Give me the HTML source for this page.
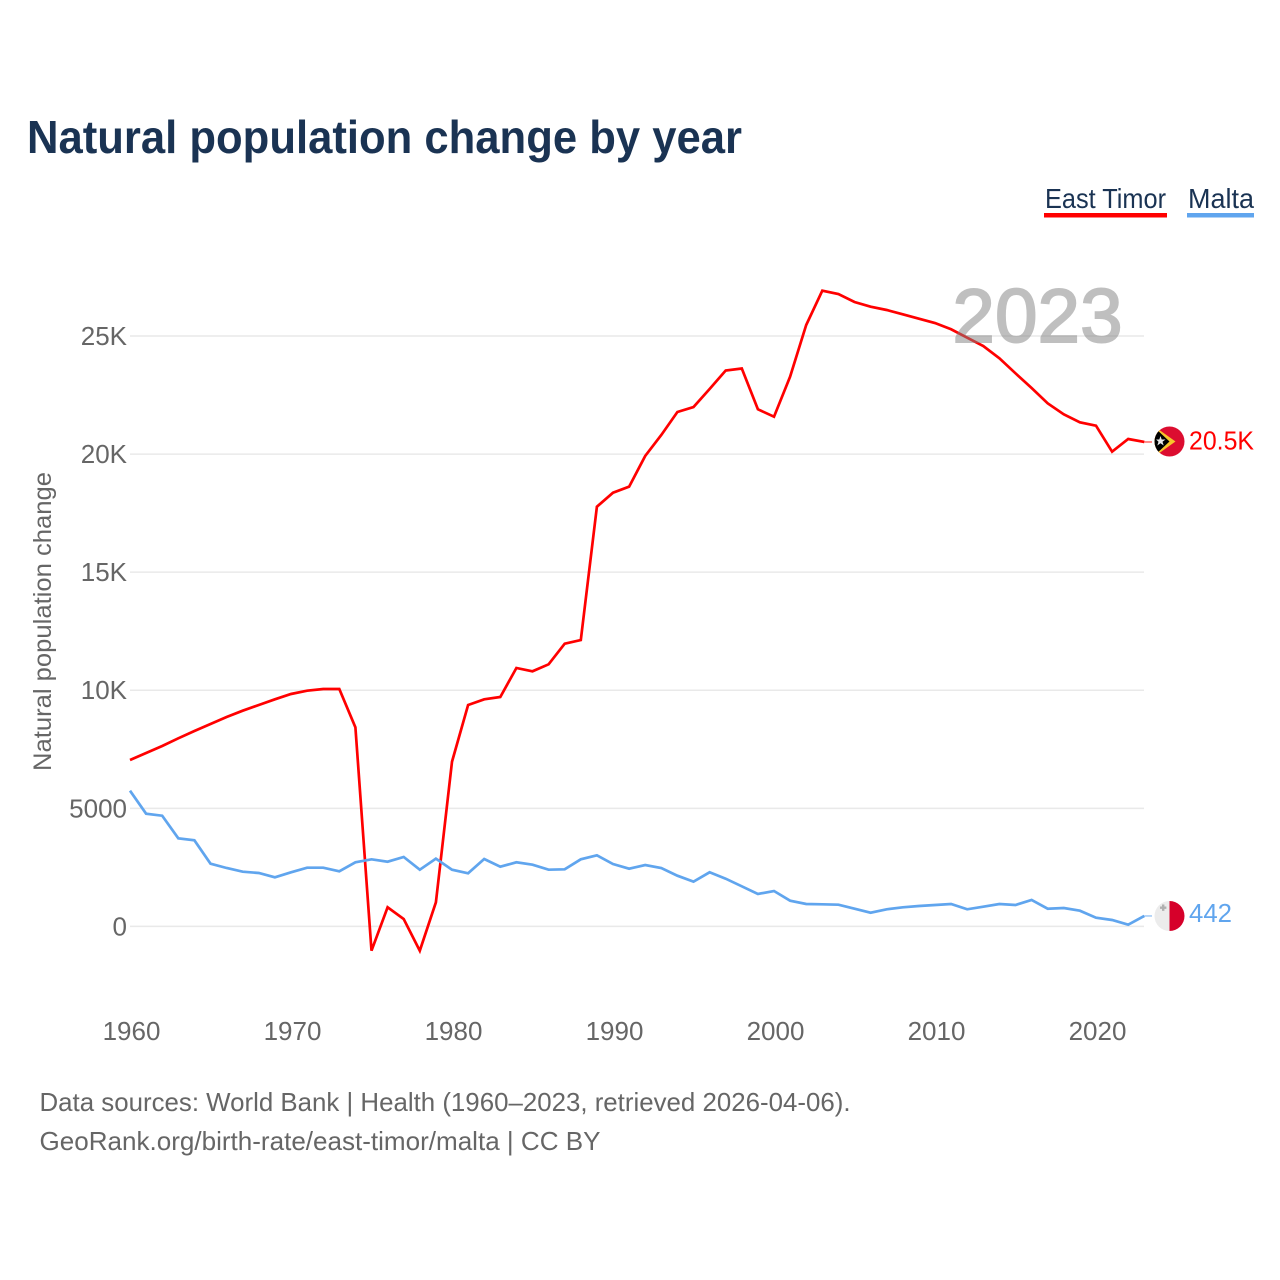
<!DOCTYPE html>
<html lang="en">
<head>
<meta charset="utf-8">
<title>Natural population change by year</title>
<style>
html,body{margin:0;padding:0;background:#fff;}
svg{display:block;font-family:"Liberation Sans",sans-serif;}
</style>
</head>
<body>
<svg id="chart" xmlns="http://www.w3.org/2000/svg" width="1280" height="1280" viewBox="0 0 1280 1280">
  <defs>
    <clipPath id="timor-clip"><circle cx="15" cy="15" r="15"/></clipPath>
    <clipPath id="malta-clip"><circle cx="15" cy="15" r="15"/></clipPath>
  </defs>
  <rect x="0" y="0" width="1280" height="1280" fill="#fff"/>
  <text x="27" y="153" font-size="46" font-weight="700" fill="#1a3353" textLength="715" lengthAdjust="spacingAndGlyphs">Natural population change by year</text>

  <g>
    <g>
      <text x="1045" y="208" font-size="28" fill="#1a3353" textLength="121" lengthAdjust="spacingAndGlyphs">East Timor</text>
      <rect x="1044" y="213" width="123" height="4.5" fill="#ff0000"/>
    </g>
    <g>
      <text x="1188" y="208" font-size="28" fill="#1a3353" textLength="66" lengthAdjust="spacingAndGlyphs">Malta</text>
      <rect x="1187" y="213" width="67" height="4.5" fill="#60a5ee"/>
    </g>
  </g>

  <g id="grid"></g>
  <g id="y-axis"></g>
  <g id="x-axis"></g>
  <text transform="translate(51 771) rotate(-90)" x="0" y="0" font-size="25" fill="#666" textLength="299" lengthAdjust="spacingAndGlyphs">Natural population change</text>

  <g id="series"></g>

  <text x="952.500" y="342" font-size="76" fill="#808080" stroke="#808080" stroke-width="2" opacity="0.5" textLength="170" lengthAdjust="spacing">2023</text>

  <g id="flag-east-timor">
    <g clip-path="url(#timor-clip)">
      <rect x="0" y="0" width="30" height="30" fill="#dc0d30"/>
      <polygon points="0,0 21,15 0,30" fill="#f7c52b"/>
      <polygon points="0,1 15,15 0,29" fill="#000"/>
      <polygon points="6,9.500 7.200,13 11,13 8,15.200 9.200,19 6,16.700 2.800,19 4,15.200 1.600,13 4.800,13" fill="#e8e8e8"/>
    </g>
  </g>
  <g id="flag-malta">
    <g clip-path="url(#malta-clip)">
      <rect x="0" y="0" width="15" height="30" fill="#ececec"/>
      <rect x="15" y="0" width="15" height="30" fill="#d6002a"/>
      <path d="M7.500 3.500h2.400v2h2v2.400h-2v2h-2.400v-2h-2V5.500h2z" fill="#b0b0b0"/>
    </g>
  </g>
  <text id="value-east-timor" x="1189" font-size="25.500" fill="#ff0000" textLength="65" lengthAdjust="spacingAndGlyphs">20.5K</text>
  <text id="value-malta" x="1189" font-size="26" fill="#60a5ee" textLength="43" lengthAdjust="spacingAndGlyphs">442</text>

  <g>
    <text x="39.500" y="1111" font-size="26" fill="#666" textLength="811" lengthAdjust="spacingAndGlyphs">Data sources: World Bank | Health (1960–2023, retrieved 2026-04-06).</text>
    <text x="39.500" y="1150" font-size="26" fill="#666" textLength="561" lengthAdjust="spacingAndGlyphs">GeoRank.org/birth-rate/east-timor/malta | CC BY</text>
  </g>
</svg>
<script>
const firstYear = 1960;
const xTickYears = [1960, 1970, 1980, 1990, 2000, 2010, 2020];
const yTickValues = [0, 5000, 10000, 15000, 20000, 25000];
const yTickLabels = ['0', '5000', '10K', '15K', '20K', '25K'];
const eastTimorValues = [
  7046, 7343, 7639, 7965, 8274, 8570, 8867, 9134, 9375, 9616,
  9841, 9980, 10052, 10052, 8431, -1029, 809, 313, -1029, 1020,
  6974, 9375, 9616, 9714, 10942, 10802, 11098, 11971, 12127, 17772,
  18364, 18619, 19919, 20808, 21782, 21993, 22756, 23539, 23624, 21896,
  21583, 23277, 25466, 26918, 26778, 26440, 26241, 26101, 25919, 25733,
  25550, 25284, 24928, 24577, 24056, 23420, 22798, 22150, 21684, 21346,
  21202, 20101, 20639, 20512
];
const maltaValues = [
  5746, 4772, 4687, 3730, 3646, 2655, 2473, 2316, 2261, 2079,
  2291, 2486, 2486, 2333, 2714, 2841, 2740, 2939, 2401, 2867,
  2401, 2248, 2854, 2528, 2714, 2613, 2401, 2418, 2841, 3011,
  2642, 2443, 2600, 2473, 2147, 1893, 2291, 2020, 1698, 1372,
  1499, 1088, 949, 936, 919, 749, 580, 724, 809, 864,
  906, 949, 724, 834, 949, 906, 1118, 749, 779, 665,
  368, 271, 72, 442
];

const SVG_NS = 'http://www.w3.org/2000/svg';
function xScale(year) { return 130 + (year - 1960) * 16.1; }
function yScale(value) { return 926.4 - value * 0.023616; }
function pathFor(values) {
  return values.map(function (v, i) {
    return (i ? 'L' : 'M') + xScale(firstYear + i).toFixed(2) + ' ' + yScale(v).toFixed(2);
  }).join('');
}

const grid = document.getElementById('grid');
const yAxis = document.getElementById('y-axis');
const xAxis = document.getElementById('x-axis');
const series = document.getElementById('series');

yTickValues.forEach(function (value, i) {
  const line = document.createElementNS(SVG_NS, 'line');
  
  
  line.setAttribute('x1', 130);
  line.setAttribute('x2', 1144);
  line.setAttribute('y1', yScale(value));
  line.setAttribute('y2', yScale(value));
  line.setAttribute('stroke', '#e9e9e9');
  line.setAttribute('stroke-width', 1.5);
  grid.appendChild(line);

  const label = document.createElementNS(SVG_NS, 'text');
  
  
  label.setAttribute('x', 127);
  label.setAttribute('y', yScale(value) + 9);
  label.setAttribute('text-anchor', 'end');
  label.setAttribute('font-size', 26);
  label.setAttribute('fill', '#666');
  label.textContent = yTickLabels[i];
  yAxis.appendChild(label);
});

xTickYears.forEach(function (year) {
  const label = document.createElementNS(SVG_NS, 'text');
  
  
  label.setAttribute('x', xScale(year) + 1.5);
  label.setAttribute('y', 1040);
  label.setAttribute('text-anchor', 'middle');
  label.setAttribute('font-size', 26);
  label.setAttribute('fill', '#666');
  label.textContent = String(year);
  xAxis.appendChild(label);
});

function drawSeries(values, color) {
  const lastX = xScale(firstYear + values.length - 1);
  const lastY = yScale(values[values.length - 1]);

  const connector = document.createElementNS(SVG_NS, 'line');
  
  
  connector.setAttribute('x1', lastX);
  connector.setAttribute('x2', 1152);
  connector.setAttribute('y1', lastY);
  connector.setAttribute('y2', lastY);
  connector.setAttribute('stroke', color);
  connector.setAttribute('stroke-opacity', 0.6);
  connector.setAttribute('stroke-width', 1.5);
  series.appendChild(connector);

  const path = document.createElementNS(SVG_NS, 'path');
  
  
  path.setAttribute('d', pathFor(values));
  path.setAttribute('fill', 'none');
  path.setAttribute('stroke', color);
  path.setAttribute('stroke-width', 2.7);
  path.setAttribute('stroke-linejoin', 'miter');
  series.appendChild(path);
}

drawSeries(eastTimorValues, '#ff0000');
drawSeries(maltaValues, '#60a5ee');

const timorY = yScale(eastTimorValues[eastTimorValues.length - 1]);
const maltaY = yScale(maltaValues[maltaValues.length - 1]);
document.getElementById('flag-east-timor').setAttribute('transform', 'translate(1154.5 ' + (timorY - 15.5) + ')');
document.getElementById('flag-malta').setAttribute('transform', 'translate(1154.5 ' + (maltaY - 15) + ')');
document.getElementById('value-east-timor').setAttribute('y', timorY + 7.5);
document.getElementById('value-malta').setAttribute('y', maltaY + 6);
</script>
</body>
</html>
